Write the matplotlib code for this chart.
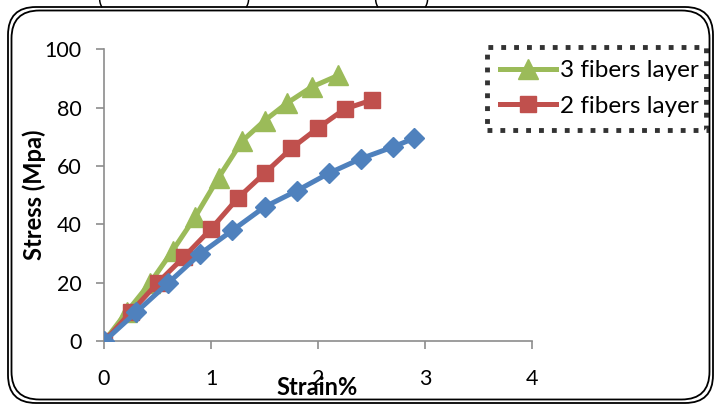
import matplotlib
matplotlib.use("Agg")
import matplotlib.pyplot as plt
from matplotlib.patches import FancyBboxPatch
from matplotlib.transforms import IdentityTransform

# strain (%) / stress (MPa)
strain_3 = [0, 0.21, 0.43, 0.64, 0.85, 1.07, 1.29, 1.5, 1.71, 1.94, 2.19]
stress_3 = [0, 10, 20, 31, 42.5, 56, 68.5, 75.5, 81.5, 87, 91]
strain_2 = [0, 0.25, 0.5, 0.75, 1.0, 1.25, 1.5, 1.75, 2.0, 2.25, 2.5]
stress_2 = [0, 10, 20, 29, 38.5, 49, 57.5, 66, 73, 79.5, 82.5]
strain_1 = [0, 0.3, 0.6, 0.9, 1.2, 1.5, 1.8, 2.1, 2.4, 2.7, 2.9]
stress_1 = [0, 10, 20, 30, 38, 46, 51.5, 57.5, 62.5, 66.5, 69.5]

labels = ["3 fibers layer", "2 fibers layer"]
x_ticks = [0, 1, 2, 3, 4]
y_ticks = [0, 20, 40, 60, 80, 100]

plt.rcParams['font.family'] = ['Lato', 'DejaVu Sans']

fig = plt.figure(figsize=(7.16, 4.05), dpi=100)
ax = fig.add_axes([0.1453, 0.1568, 0.5977, 0.7222])

ax.plot(strain_3, stress_3, color='#9BBB59', lw=3.6, marker='^', ms=14,
        label=labels[0], zorder=3)
ax.plot(strain_2, stress_2, color='#C0504D', lw=3.6, marker='s', ms=11.5,
        label=labels[1], zorder=4)
ax.plot(strain_1, stress_1, color='#4F81BD', lw=3.6, marker='D', ms=10.5,
        label='_nolegend_', zorder=5)

ax.set_xlim(0, 4)
ax.set_ylim(0, 100)
ax.set_xticks(x_ticks)
ax.set_yticks(y_ticks)
for s in ['top', 'right']:
    ax.spines[s].set_visible(False)
for s in ['left', 'bottom']:
    ax.spines[s].set_color('#8c8c8c')
    ax.spines[s].set_linewidth(1.2)
ax.tick_params(axis='both', length=6, width=1.2, color='#8c8c8c',
               labelsize=15.5, pad=10)
ax.tick_params(axis='x', pad=14)
for sp in ax.spines.values():
    sp.set_zorder(1)

fig.text(0.048, 0.519, "Stress (Mpa)", rotation=90, fontsize=17,
         fontweight='bold', ha='center', va='center')
fig.text(0.443, 0.044, "Strain%", fontsize=17, fontweight='bold',
         ha='center', va='center', zorder=10)

leg = ax.legend(loc='upper left', bbox_to_anchor=(0.680, 0.679, 0.306, 0.205),
                bbox_transform=fig.transFigure, mode='expand', fontsize=17.5,
                frameon=True, fancybox=False, handlelength=2.3, borderpad=0.55,
                labelspacing=0.6, handletextpad=0.15, borderaxespad=0)
fr = leg.get_frame()
fr.set_edgecolor('black')
fr.set_linestyle(':')
fr.set_linewidth(3.5)

# rounded double frame around the chart
for off in (0, 3.5):
    fig.patches.append(FancyBboxPatch(
        (8 + off, 2 + off), 705 - 2 * off, 396 - 2 * off,
        boxstyle="round,pad=0,rounding_size=28", transform=IdentityTransform(),
        fill=False, edgecolor='black', lw=1.3))

# clipped fragments of the text above the chart
for xf, ch in [(0.14, "("), (0.345, ")"), (0.525, "("), (0.595, ")")]:
    fig.text(xf, 1.005, ch, fontsize=14, ha='center', va='center')

fig.savefig("out.png", dpi=100)
